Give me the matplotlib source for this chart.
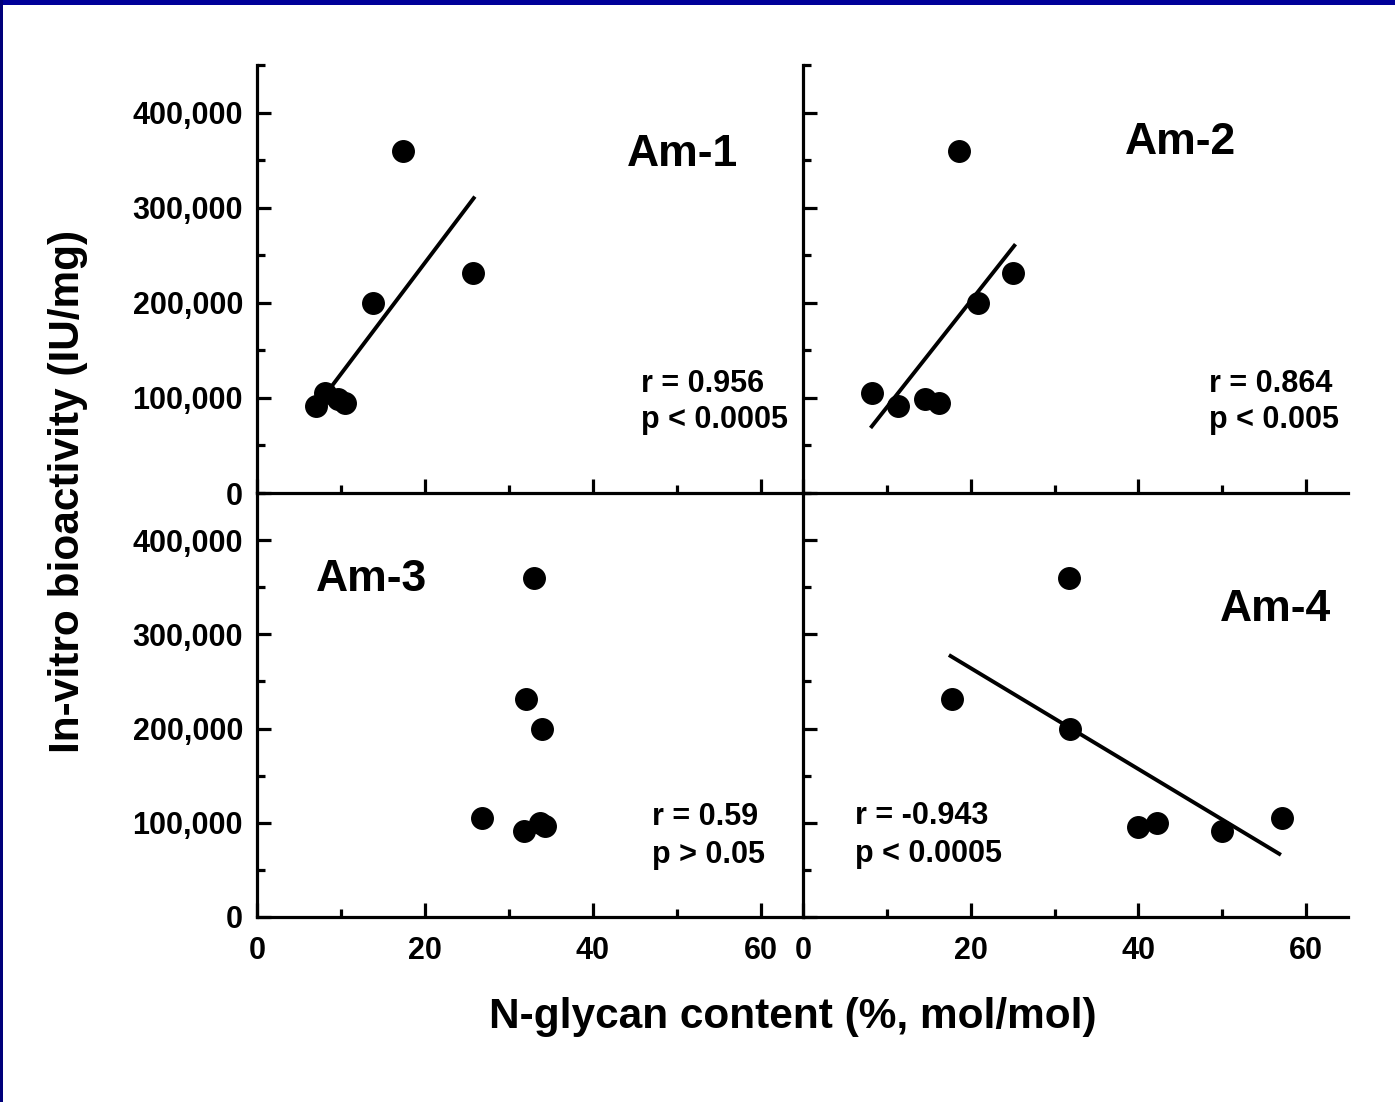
import matplotlib
matplotlib.use('Agg')
import matplotlib.pyplot as plt
from matplotlib.ticker import MultipleLocator
from matplotlib.patches import Rectangle

plt.rcParams['font.family'] = ['Liberation Sans', 'DejaVu Sans']
plt.rcParams['font.weight'] = 'bold'

# ---- data ----
panel_names = ['Am-1', 'Am-2', 'Am-3', 'Am-4']

am1_x = [17.4, 25.7, 13.8, 8.1, 7.0, 9.6, 10.5]
am1_y = [360000, 231000, 200000, 105000, 91000, 99000, 95000]
am1_fit_x = [8.7, 25.8]
am1_fit_y = [110000, 310000]

am2_x = [18.6, 25.1, 20.9, 8.2, 11.3, 14.5, 16.2]
am2_y = [360000, 231000, 200000, 105000, 91000, 99000, 95000]
am2_fit_x = [8.2, 25.2]
am2_fit_y = [70000, 260000]

am3_x = [33.0, 32.0, 33.9, 26.8, 31.8, 33.7, 34.3]
am3_y = [360000, 231000, 200000, 105000, 91000, 100000, 97000]

am4_x = [31.7, 17.8, 31.8, 40.0, 42.2, 50.0, 57.1]
am4_y = [360000, 231000, 200000, 96000, 100000, 91000, 105000]
am4_fit_x = [17.6, 56.8]
am4_fit_y = [277000, 67000]

stats_r = ['r = 0.956', 'r = 0.864', 'r = 0.59', 'r = -0.943']
stats_p = ['p < 0.0005', 'p < 0.005', 'p > 0.05', 'p < 0.0005']

x_tick_labels = ['0', '20', '40', '60']
y_tick_labels = ['0', '100,000', '200,000', '300,000', '400,000']

x_label = 'N-glycan content (%, mol/mol)'
y_label = 'In-vitro bioactivity (IU/mg)'

# ---- figure ----
W, H = 1395, 1102
fig = plt.figure(figsize=(W / 100, H / 100), dpi=100)
fig.patch.set_facecolor('white')

def fx(px):
    return px / W

def fy(py):
    return 1 - py / H

col_left = [257, 803]
col_right = [803, 1348]
row_top = [65, 493]
row_bot = [493, 917]

panels = [
    dict(x=am1_x, y=am1_y, fx_=am1_fit_x, fy_=am1_fit_y, col=0, row=0,
         name_pos=(50.7, 356000), stat_pos=(45.7, 115000, 77000)),
    dict(x=am2_x, y=am2_y, fx_=am2_fit_x, fy_=am2_fit_y, col=1, row=0,
         name_pos=(45.0, 368000), stat_pos=(48.4, 115000, 77000)),
    dict(x=am3_x, y=am3_y, fx_=None, fy_=None, col=0, row=1,
         name_pos=(13.6, 358000), stat_pos=(47.0, 106000, 66000)),
    dict(x=am4_x, y=am4_y, fx_=am4_fit_x, fy_=am4_fit_y, col=1, row=1,
         name_pos=(56.3, 326000), stat_pos=(6.2, 107000, 67000)),
]

lw = 2.3
for i, p in enumerate(panels):
    left = col_left[p['col']]
    right = col_right[p['col']]
    top = row_top[p['row']]
    bot = row_bot[p['row']]
    ax = fig.add_axes([fx(left), fy(bot), fx(right - left), (bot - top) / H])
    ax.set_facecolor('none')
    ax.set_xlim(0, 65)
    ax.set_ylim(0, 450000)
    for s in ['top', 'right']:
        ax.spines[s].set_visible(False)
    for s in ['left', 'bottom']:
        ax.spines[s].set_linewidth(lw)
    ax.xaxis.set_major_locator(MultipleLocator(20))
    ax.xaxis.set_minor_locator(MultipleLocator(10))
    ax.yaxis.set_major_locator(MultipleLocator(100000))
    ax.yaxis.set_minor_locator(MultipleLocator(50000))
    ax.tick_params(which='major', direction='in', length=10, width=lw,
                   labelsize=22, pad=10)
    ax.tick_params(which='minor', direction='in', length=6, width=lw)
    ax.tick_params(axis='x', which='major', pad=14)
    ax.set_xticks([0, 20, 40, 60])
    ax.set_yticks([0, 100000, 200000, 300000, 400000])
    if p['row'] == 1:
        ax.set_xticklabels(x_tick_labels, fontweight='bold')
    else:
        ax.set_xticklabels([])
    if p['col'] == 0:
        ax.set_yticklabels(y_tick_labels, fontweight='bold')
    else:
        ax.set_yticklabels([])

    ax.plot(p['x'], p['y'], 'o', color='black', markersize=15.5, clip_on=False)
    if p['fx_'] is not None:
        ax.plot(p['fx_'], p['fy_'], '-', color='black', linewidth=2.8)

    ax.text(p['name_pos'][0], p['name_pos'][1], panel_names[i],
            fontsize=32, fontweight='bold', ha='center', va='center')
    sx, ry, py_ = p['stat_pos']
    ax.text(sx, ry, stats_r[i], fontsize=22, fontweight='bold',
            ha='left', va='center')
    ax.text(sx, py_, stats_p[i], fontsize=22, fontweight='bold',
            ha='left', va='center')

fig.text(fx(68), fy(491), y_label, rotation=90, fontsize=30.5,
         fontweight='bold', ha='center', va='center')
fig.text(fx(793), fy(1017), x_label, fontsize=30.5,
         fontweight='bold', ha='center', va='center')

# blue frame on top and left edges
fig.patches.append(Rectangle((0, 1 - 5 / H), 1, 5 / H, transform=fig.transFigure,
                             facecolor='#000099', edgecolor='none', zorder=10))
fig.patches.append(Rectangle((0, 0), 3 / W, 1, transform=fig.transFigure,
                             facecolor='#00007a', edgecolor='none', zorder=10))

fig.savefig('out.png', dpi=100, facecolor='white')
